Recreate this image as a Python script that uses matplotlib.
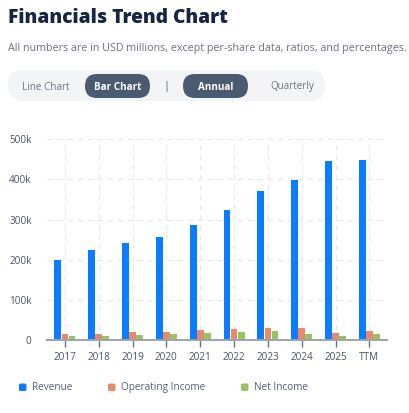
import matplotlib
matplotlib.use("Agg")
import matplotlib.pyplot as plt
from matplotlib.patches import FancyBboxPatch
import numpy as np

categories = ["2017", "2018", "2019", "2020", "2021", "2022", "2023", "2024", "2025", "TTM"]
revenue = [200, 225, 241, 256, 286, 323, 370, 399, 446, 449]
operating_income = [14, 16, 19, 21, 24, 27, 31, 31, 18, 22]
net_income = [10, 11, 13, 15, 17, 19, 22, 14, 10, 14]
y_ticks = [0, 100, 200, 300, 400, 500]
y_labels = ["0", "100k", "200k", "300k", "400k", "500k"]

C_REV = "#0a7cff"
C_OP = "#e8896a"
C_NET = "#9bc162"

W, H = 410, 413
fig = plt.figure(figsize=(W / 100, H / 100), dpi=100)
plt.rcParams['font.family'] = ['Open Sans', 'DejaVu Sans']

def fx(px):
    return px / W

def fy(py):
    return 1 - py / H

# Title and subtitle
fig.text(fx(8), fy(18), "Financials Trend Chart", fontsize=13.8, fontweight=800,
         color="#172640", ha="left", va="center")
fig.text(fx(8), fy(49), "All numbers are in USD millions, except per-share data, ratios, and percentages.",
         fontsize=7.73, color="#6b7280", ha="left", va="center")

# Toggle bar
bg = FancyBboxPatch((fx(8), fy(101)), fx(317), fy(70) - fy(101),
                    boxstyle="round,pad=0,rounding_size=0.037", transform=fig.transFigure,
                    facecolor="#f3f4f6", edgecolor="none")
fig.patches.append(bg)
for x0, w in [(85, 65), (183, 65)]:
    pill = FancyBboxPatch((fx(x0), fy(98)), fx(w), fy(74) - fy(98),
                          boxstyle="round,pad=0,rounding_size=0.029", transform=fig.transFigure,
                          facecolor="#4a5a70", edgecolor="none")
    fig.patches.append(pill)
fig.text(fx(46), fy(87), "Line Chart", fontsize=7.1, color="#6b7280", ha="center", va="center")
fig.text(fx(117.5), fy(87), "Bar Chart", fontsize=7.1, color="white", fontweight="bold", ha="center", va="center")
fig.text(fx(166), fy(86), "|", fontsize=8, color="#4a5a70", ha="center", va="center")
fig.text(fx(215.5), fy(87), "Annual", fontsize=7.1, color="white", fontweight="bold", ha="center", va="center")
fig.text(fx(292), fy(87), "Quarterly", fontsize=7.1, color="#6b7280", ha="center", va="center")

# Card edge line on the right
fig.add_artist(plt.Line2D([fx(409), fx(409)], [fy(132), fy(413)], transform=fig.transFigure,
                          color="#e5e7eb", linewidth=0.8))

# Chart axes
ax_l, ax_r, ax_t, ax_b = 47, 387, 139.3, 340
ax = fig.add_axes([fx(ax_l), fy(ax_b), fx(ax_r - ax_l), fy(ax_t) - fy(ax_b)])
x = np.arange(len(categories))
bw = 0.2
ax.bar(x - 0.21, revenue, bw, color=C_REV, zorder=3)
ax.bar(x, operating_income, bw, color=C_OP, zorder=3)
ax.bar(x + 0.21, net_income, bw, color=C_NET, zorder=3)

ax.set_xlim(-0.53, len(categories) - 0.48)
ax.set_ylim(0, 500)
ax.set_yticks(y_ticks)
ax.set_yticklabels(y_labels)
ax.set_xticks(x)
ax.set_xticklabels(categories)
ax.grid(True, color="#e8e8ec", linestyle=(0, (5, 4)), linewidth=0.8, zorder=0)
for s in ["top", "right", "left"]:
    ax.spines[s].set_visible(False)
ax.spines["bottom"].set_color("#9ca3af")
ax.spines["bottom"].set_linewidth(1.4)
ax.spines["bottom"].set_zorder(4)
ax.tick_params(axis="y", length=0, pad=11, labelsize=7.2, labelcolor="#4b5563")
ax.tick_params(axis="x", length=5, width=1, color="#6b7280", pad=4, labelsize=7.2, labelcolor="#4b5563")
ax.set_facecolor("none")

# Legend
for sx, label, col in [(19, "Revenue", C_REV), (108, "Operating Income", C_OP), (241, "Net Income", C_NET)]:
    sq = FancyBboxPatch((fx(sx), fy(391)), fx(7.5), fy(383.5) - fy(391),
                        boxstyle="round,pad=0,rounding_size=0.004", transform=fig.transFigure,
                        facecolor=col, edgecolor="none")
    fig.patches.append(sq)
    fig.text(fx(sx + 13), fy(387.5), label, fontsize=7.2, color="#5a5f7a", ha="left", va="center")

fig.savefig("out.png", dpi=100)
